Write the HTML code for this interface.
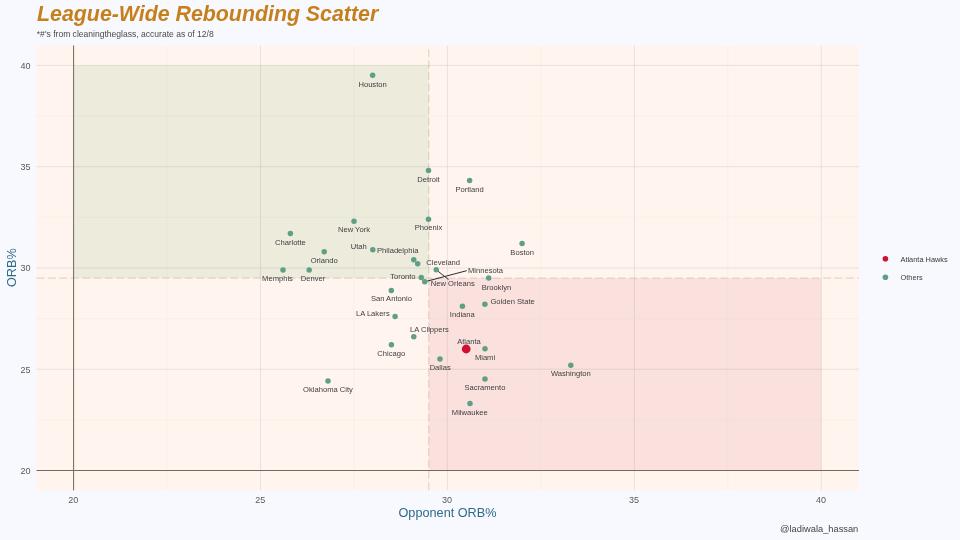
<!DOCTYPE html>
<html lang="en"><head><meta charset="utf-8"><title>League-Wide Rebounding Scatter</title>
<style>
html,body{margin:0;padding:0;background:#f8f8ff;}
body{width:960px;height:540px;overflow:hidden;font-family:"Liberation Sans",Arial,Helvetica,sans-serif;}
svg{display:block;}
text{font-family:"Liberation Sans",Arial,Helvetica,sans-serif;}
.lab{font-size:7.6px;fill:#404040;}
.tick{font-size:9px;fill:#5a5a5a;}
.axt{font-size:12.7px;fill:#2e6b88;}
.leg{font-size:7.4px;fill:#3a3a3a;}
</style></head><body>
<svg width="960" height="540" viewBox="0 0 960 540">
<rect x="0" y="0" width="960" height="540" fill="#f8f8ff"/>
<rect x="36.5" y="45.5" width="822.5" height="444.8" fill="#fff5ee"/>
<g stroke="#efe5df" stroke-width="0.35">
<line x1="167.1" x2="167.1" y1="45.5" y2="490.3"/><line y1="419.9" y2="419.9" x1="36.5" x2="859.0"/><line x1="354.0" x2="354.0" y1="45.5" y2="490.3"/><line y1="318.6" y2="318.6" x1="36.5" x2="859.0"/><line x1="540.9" x2="540.9" y1="45.5" y2="490.3"/><line y1="217.3" y2="217.3" x1="36.5" x2="859.0"/><line x1="727.8" x2="727.8" y1="45.5" y2="490.3"/><line y1="116.0" y2="116.0" x1="36.5" x2="859.0"/></g>
<g stroke="#dad3d0" stroke-width="0.6">
<line x1="73.6" x2="73.6" y1="45.5" y2="490.3"/><line y1="470.5" y2="470.5" x1="36.5" x2="859.0"/><line x1="260.5" x2="260.5" y1="45.5" y2="490.3"/><line y1="369.2" y2="369.2" x1="36.5" x2="859.0"/><line x1="447.4" x2="447.4" y1="45.5" y2="490.3"/><line y1="268.0" y2="268.0" x1="36.5" x2="859.0"/><line x1="634.4" x2="634.4" y1="45.5" y2="490.3"/><line y1="166.7" y2="166.7" x1="36.5" x2="859.0"/><line x1="821.3" x2="821.3" y1="45.5" y2="490.3"/><line y1="65.4" y2="65.4" x1="36.5" x2="859.0"/></g>
<rect x="73.6" y="65.4" width="355.2" height="212.7" fill="#50964b" fill-opacity="0.105"/>
<rect x="428.8" y="278.1" width="392.5" height="192.4" fill="#c8102e" fill-opacity="0.082"/>
<g stroke="#c8b4a0" stroke-opacity="0.62" stroke-width="1" stroke-dasharray="8 3.4"><line x1="428.8" x2="428.8" y1="490.3" y2="45.5"/><line y1="278.1" y2="278.1" x1="36.5" x2="859.0"/></g>
<g stroke="#736961" stroke-width="1"><line x1="73.6" x2="73.6" y1="45.5" y2="490.3"/><line y1="470.5" y2="470.5" x1="36.5" x2="859.0"/></g>
<g stroke="#222" stroke-width="0.95" stroke-linecap="round"><line x1="437.2" y1="270.6" x2="448.2" y2="279.3"/><line x1="425.8" y1="281.5" x2="466.3" y2="270.8"/></g>
<g fill="#5f9f85"><circle cx="372.6" cy="75.2" r="2.75"/><circle cx="428.5" cy="170.4" r="2.75"/><circle cx="469.6" cy="180.6" r="2.75"/><circle cx="428.5" cy="219.3" r="2.75"/><circle cx="354" cy="221.3" r="2.75"/><circle cx="290.4" cy="233.4" r="2.75"/><circle cx="522.1" cy="243.4" r="2.75"/><circle cx="324.2" cy="251.7" r="2.75"/><circle cx="372.8" cy="249.7" r="2.75"/><circle cx="413.75" cy="259.7" r="2.75"/><circle cx="417.7" cy="263.75" r="2.75"/><circle cx="436.25" cy="269.8" r="2.75"/><circle cx="283" cy="269.9" r="2.75"/><circle cx="309.2" cy="269.9" r="2.75"/><circle cx="421.25" cy="277.6" r="2.75"/><circle cx="424.75" cy="281.8" r="2.75"/><circle cx="488.7" cy="278" r="2.75"/><circle cx="391.3" cy="290.6" r="2.75"/><circle cx="484.9" cy="304.3" r="2.75"/><circle cx="462.4" cy="306.3" r="2.75"/><circle cx="395.1" cy="316.4" r="2.75"/><circle cx="413.8" cy="336.8" r="2.75"/><circle cx="391.4" cy="344.7" r="2.75"/><circle cx="485" cy="348.8" r="2.75"/><circle cx="440" cy="358.9" r="2.75"/><circle cx="570.8" cy="365.2" r="2.75"/><circle cx="485" cy="379" r="2.75"/><circle cx="328" cy="381" r="2.75"/><circle cx="470" cy="403.6" r="2.75"/></g>
<circle cx="466.2" cy="349.0" r="4.4" fill="#cf1030"/>
<g class="lab">
<text x="372.6" y="86.7" text-anchor="middle">Houston</text>
<text x="428.5" y="181.9" text-anchor="middle">Detroit</text>
<text x="469.6" y="191.9" text-anchor="middle">Portland</text>
<text x="428.5" y="230.4" text-anchor="middle">Phoenix</text>
<text x="354" y="232.3" text-anchor="middle">New York</text>
<text x="290.4" y="244.6" text-anchor="middle">Charlotte</text>
<text x="522.2" y="254.5" text-anchor="middle">Boston</text>
<text x="324.2" y="262.8" text-anchor="middle">Orlando</text>
<text x="366.8" y="249.3" text-anchor="end">Utah</text>
<text x="377" y="253.2" text-anchor="start">Philadelphia</text>
<text x="426.3" y="265.4" text-anchor="start">Cleveland</text>
<text x="430.8" y="286.3" text-anchor="start">New Orleans</text>
<text x="277.5" y="280.8" text-anchor="middle">Memphis</text>
<text x="313" y="280.8" text-anchor="middle">Denver</text>
<text x="415.5" y="278.5" text-anchor="end">Toronto</text>
<text x="468" y="273" text-anchor="start">Minnesota</text>
<text x="496.4" y="289.8" text-anchor="middle">Brooklyn</text>
<text x="391.4" y="300.9" text-anchor="middle">San Antonio</text>
<text x="490.4" y="303.6" text-anchor="start">Golden State</text>
<text x="462.3" y="317.3" text-anchor="middle">Indiana</text>
<text x="389.7" y="315.8" text-anchor="end">LA Lakers</text>
<text x="410" y="332" text-anchor="start">LA Clippers</text>
<text x="391.3" y="355.5" text-anchor="middle">Chicago</text>
<text x="485" y="359.6" text-anchor="middle">Miami</text>
<text x="440.2" y="370" text-anchor="middle">Dallas</text>
<text x="570.8" y="375.8" text-anchor="middle">Washington</text>
<text x="484.9" y="390.4" text-anchor="middle">Sacramento</text>
<text x="328" y="392.2" text-anchor="middle">Oklahoma City</text>
<text x="469.8" y="414.5" text-anchor="middle">Milwaukee</text>
<text x="469" y="343.8" text-anchor="middle">Atlanta</text>
</g>
<g class="tick" text-anchor="middle"><text x="73.3" y="502.6">20</text><text x="260.2" y="502.6">25</text><text x="447.1" y="502.6">30</text><text x="634.1" y="502.6">35</text><text x="821.0" y="502.6">40</text></g>
<g class="tick" text-anchor="end"><text x="30.6" y="473.8">20</text><text x="30.6" y="372.5">25</text><text x="30.6" y="271.3">30</text><text x="30.6" y="170.0">35</text><text x="30.6" y="68.7">40</text></g>
<text class="axt" x="447.5" y="517.2" text-anchor="middle">Opponent ORB%</text>
<text class="axt" transform="translate(15.9,267.7) rotate(-90)" text-anchor="middle">ORB%</text>
<text x="37.1" y="21.15" font-size="21.33px" font-weight="bold" font-style="italic" fill="#c5801c">League-Wide Rebounding Scatter</text>
<text x="36.8" y="37.4" font-size="8.55px" fill="#4a4a4a">*#'s from cleaningtheglass, accurate as of 12/8</text>
<text x="858.3" y="532" font-size="9.3px" fill="#444" text-anchor="end">@ladiwala_hassan</text>
<circle cx="885.4" cy="258.8" r="2.8" fill="#cf1030"/><circle cx="885.4" cy="277.3" r="2.8" fill="#5f9f85"/>
<text class="leg" x="900.5" y="261.5">Atlanta Hawks</text><text class="leg" x="900.5" y="280">Others</text>
</svg>
</body></html>
